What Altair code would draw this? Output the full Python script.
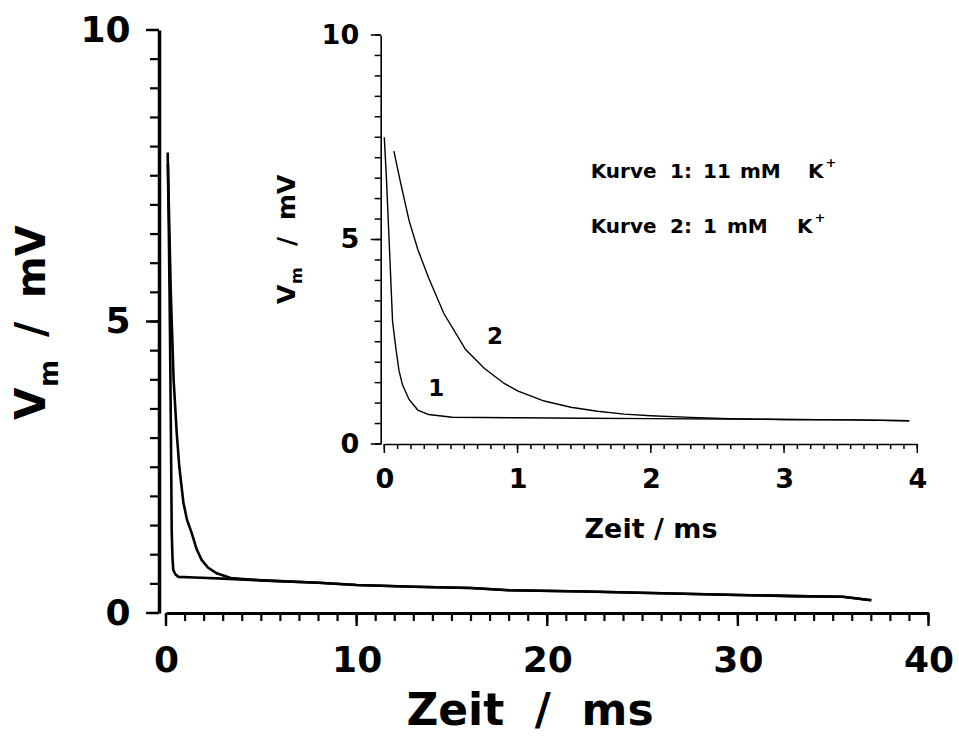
import altair as alt
import pandas as pd

# ---------------- data ----------------
# main plot, early part of the two traces (ms, mV)
main_t1 = [0.09, 0.15, 0.21, 0.26, 0.30, 0.34, 0.38, 0.50, 0.65, 1.5, 3.0]
main_v1 = [7.9, 6.5, 4.8, 3.0, 1.4, 0.95, 0.74, 0.66, 0.62, 0.61, 0.59]
main_t2 = [0.10, 0.25, 0.40, 0.56, 0.70, 0.91, 1.10, 1.35, 1.60, 1.87, 2.20, 2.66, 3.40]
main_v2 = [7.7, 5.5, 4.0, 3.1, 2.5, 1.9, 1.6, 1.37, 1.1, 0.91, 0.78, 0.68, 0.60]
# common slow tail of both traces
tail_t = [5, 8, 10, 13, 16, 18, 22, 26, 30, 33, 35.5, 37]
tail_v = [0.56, 0.52, 0.48, 0.45, 0.43, 0.39, 0.37, 0.34, 0.31, 0.29, 0.28, 0.22]

# inset (0-4 ms)
inset_t1 = [0.0, 0.016, 0.039, 0.062, 0.088, 0.11, 0.137, 0.186, 0.251, 0.333, 0.51,
            1.0, 1.5, 2.0, 2.5, 3.0, 3.5, 3.94]
inset_v1 = [7.5, 6.5, 4.76, 3.0, 2.31, 1.8, 1.44, 1.09, 0.83, 0.72, 0.655,
            0.64, 0.63, 0.62, 0.61, 0.60, 0.59, 0.57]
inset_t2 = [0.072, 0.12, 0.186, 0.251, 0.333, 0.447, 0.61, 0.75, 0.9, 1.0, 1.2, 1.4,
            1.6, 1.8, 2.0, 2.3, 2.6, 3.0, 3.5, 3.94]
inset_v2 = [7.16, 6.42, 5.46, 4.76, 4.06, 3.19, 2.31, 1.85, 1.48, 1.3, 1.05, 0.9,
            0.8, 0.73, 0.69, 0.65, 0.62, 0.60, 0.59, 0.57]

curve_labels = ["1", "2"]
label_t = [0.39, 0.83]
label_v = [1.35, 2.62]

main_x_major = [0, 10, 20, 30, 40]
main_x_minor = list(range(0, 41))
y_major = [0, 5, 10]
y_minor = [i * 0.5 for i in range(21)]
inset_x_major = [0, 1, 2, 3, 4]
inset_x_minor = [round(i * 0.1, 1) for i in range(41)]

# ---------------- tables ----------------
rows = []
for k, (t, v) in enumerate(zip(main_t1 + tail_t, main_v1 + tail_v)):
    rows.append({"t": t, "v": v, "curve": "1", "o": k})
for k, (t, v) in enumerate(zip(main_t2 + tail_t, main_v2 + tail_v)):
    rows.append({"t": t, "v": v, "curve": "2", "o": k})
main_df = pd.DataFrame(rows)

rows = []
for k, (t, v) in enumerate(zip(inset_t1, inset_v1)):
    rows.append({"t": t, "v": v, "curve": "1", "o": k})
for k, (t, v) in enumerate(zip(inset_t2, inset_v2)):
    rows.append({"t": t, "v": v, "curve": "2", "o": k})
inset_df = pd.DataFrame(rows)

lab_df = pd.DataFrame({"t": label_t, "v": label_v, "txt": curve_labels})

FONT = "DejaVu Sans"
W, H = 762.5, 583
OX, OY = 166, 30  # plot origin in page pixels
YOFF = 7          # main y axis drawn left of the plot origin
IX0, IX1 = 218.3, 751.3   # inset placement inside the main plot area
IY0, IY1 = 414, 5
IYX = IX0 - 3.6           # inset y axis position

mx = alt.Scale(domain=[0, 40], nice=False, zero=False)
my = alt.Scale(domain=[0, 10], nice=False, zero=False)
ix = alt.Scale(domain=[0, 4], range=[IX0, IX1], nice=False, zero=False)
iy = alt.Scale(domain=[0, 10], range=[IY0, IY1], nice=False, zero=False)


def axis(values, lsize, lpad, dw, orient, offset=0):
    return alt.Axis(
        values=values, orient=orient, offset=offset, ticks=False,
        domainWidth=dw, domainColor="black", format="d",
        labelFont=FONT, labelFontWeight="bold", labelFontSize=lsize,
        labelColor="black", labelPadding=lpad, labelFlush=False,
        labelOverlap=False, grid=False, title=None,
    )


main_lines = alt.Chart(main_df).mark_line(color="black", strokeWidth=2.6).encode(
    x=alt.X("t:Q", scale=mx, axis=axis(main_x_major, 36, 30, 3, "bottom")),
    y=alt.Y("v:Q", scale=my, axis=axis(y_major, 36, 29, 3.5, "left", offset=YOFF)),
    detail="curve:N", order="o:Q",
)

inset_lines = alt.Chart(inset_df).mark_line(color="black", strokeWidth=1.4).encode(
    x=alt.X("t:Q", scale=ix, axis=axis(inset_x_major, 27, 22, 1.6, "bottom", offset=-(H - IY0))),
    y=alt.Y("v:Q", scale=iy, axis=axis(y_major, 27, 22, 1.6, "left", offset=-IYX)),
    detail="curve:N", order="o:Q",
)


# tick marks, placed through the same scales
def xticks(vals, scale, y0, length, width):
    return alt.Chart(pd.DataFrame({"val": vals})).mark_rule(
        color="black", strokeWidth=width).encode(
        x=alt.X("val:Q", scale=scale, axis=None),
        y=alt.value(y0), y2=alt.value(y0 + length))


def yticks(vals, scale, x0, length, width):
    return alt.Chart(pd.DataFrame({"val": vals})).mark_rule(
        color="black", strokeWidth=width).encode(
        y=alt.Y("val:Q", scale=scale, axis=None),
        x=alt.value(x0 - length), x2=alt.value(x0))


ticks = [
    xticks(main_x_major, mx, H, 13, 2.4),
    xticks(main_x_minor, mx, H, 8, 2.2),
    yticks(y_major, my, -YOFF, 13, 2.4),
    yticks(y_minor, my, -YOFF, 9, 2.2),
    xticks(inset_x_major, ix, IY0, 9, 1.5),
    xticks(inset_x_minor, ix, IY0, 5, 1.5),
    yticks(y_major, iy, IYX, 10, 1.5),
    yticks(y_minor, iy, IYX, 6, 1.5),
]

curve_lab = alt.Chart(lab_df).mark_text(font=FONT, fontWeight="bold", fontSize=23,
                                         color="black").encode(
    x=alt.X("t:Q", scale=ix, axis=None),
    y=alt.Y("v:Q", scale=iy, axis=None),
    text="txt:N",
)

NB = "\u00a0"


def txt(s, x, y, size, align="left", angle=0):
    kw = dict(text=s, font=FONT, fontWeight="bold", fontSize=size, align=align,
              baseline="alphabetic", color="black")
    if angle:
        kw["angle"] = angle
    return alt.Chart(lab_df).mark_text(**kw).encode(
        x=alt.value(x - OX), y=alt.value(y - OY)
    ).transform_filter("datum.txt == '1'")


texts = [
    # main x title
    txt(f"Zeit{NB}{NB}/{NB}{NB}ms", 530, 725, 44, align="center"),
    # main y title (rotated), V with subscript m
    txt("V", 45, 420, 42, angle=270),
    txt("m", 58, 387, 26, angle=270),
    txt("/", 45, 337, 42, angle=270),
    txt("mV", 45, 298, 40, angle=270),
    # inset x title
    txt("Zeit / ms", 651, 537.7, 27, align="center"),
    # inset y title
    txt("V", 295, 304, 25, angle=270),
    txt("m", 302, 284, 16, angle=270),
    txt("/", 295, 246, 25, angle=270),
    txt("mV", 295, 220, 25, angle=270),
    # legend text
    txt("Kurve", 590.7, 178.3, 20),
    txt("1:", 670, 178.3, 20),
    txt("11", 703, 178.3, 20),
    txt("mM", 740, 178.3, 20),
    txt("K", 808, 178.3, 20),
    txt("+", 825.5, 167, 13),
    txt("Kurve", 590.7, 233.3, 20),
    txt("2:", 670, 233.3, 20),
    txt("1", 703, 233.3, 20),
    txt("mM", 727, 233.3, 20),
    txt("K", 797, 233.3, 20),
    txt("+", 814.5, 222, 13),
]

chart = alt.layer(main_lines, inset_lines, *ticks, curve_lab, *texts).resolve_scale(
    x="independent", y="independent"
).resolve_axis(
    x="independent", y="independent"
).properties(
    width=W, height=H, autosize="none",
    padding={"left": OX, "top": OY, "right": 959 - OX - W, "bottom": 740 - OY - H},
    background="white",
).configure_view(stroke=None)

chart.save("out.html", embed_options={"renderer": "svg", "actions": False})
